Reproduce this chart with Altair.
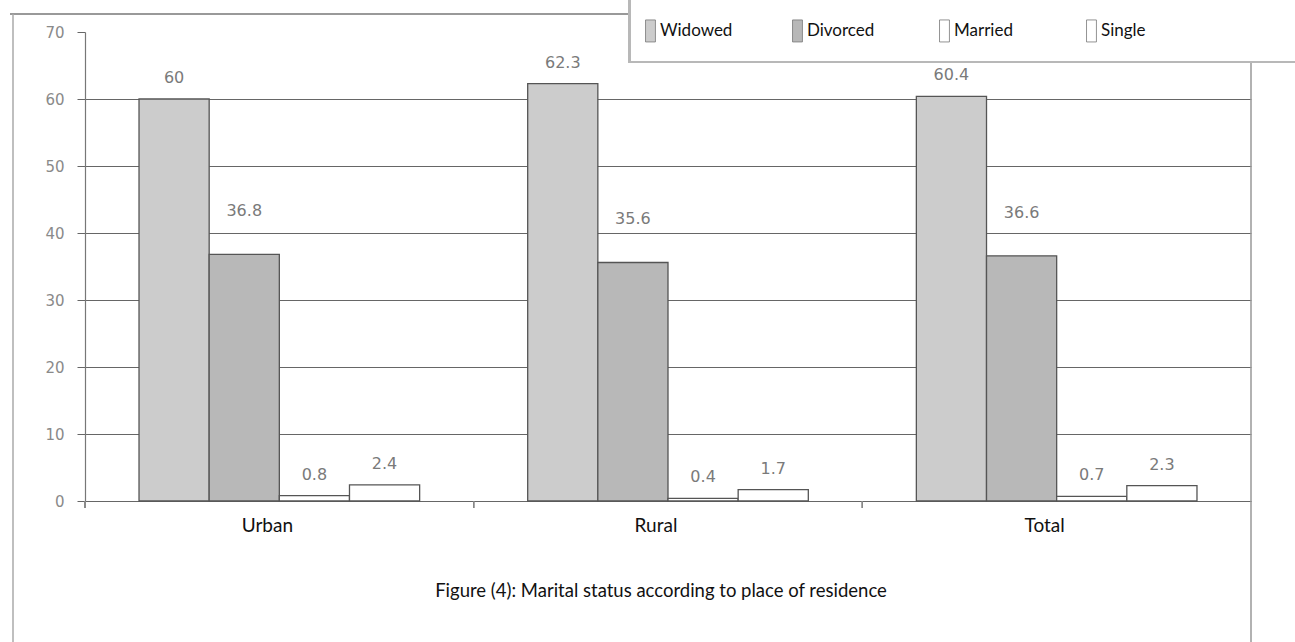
import altair as alt
import pandas as pd

# Marital status (%) by place of residence
places = ["Urban", "Rural", "Total"]
statuses = ["Widowed", "Divorced", "Married", "Single"]
widowed = [60, 62.3, 60.4]
divorced = [36.8, 35.6, 36.6]
married = [0.8, 0.4, 0.7]
single = [2.4, 1.7, 2.3]
y_ticks = [0, 10, 20, 30, 40, 50, 60, 70]
caption = "Figure (4): Marital status according to place of residence"

series = dict(zip(statuses, [widowed, divorced, married, single]))
df = pd.DataFrame(
    [{"place": p, "status": s, "value": series[s][i]}
     for s in statuses for i, p in enumerate(places)]
)
one = pd.DataFrame({"caption": [caption]})

W, H = 1166, 469
FONT_TXT = "Lato"
FONT_NUM = "DejaVu Sans"

x_enc = alt.X(
    "place:N", sort=places, title=None,
    scale=alt.Scale(paddingInner=0, paddingOuter=0),
    axis=alt.Axis(labelFont=FONT_TXT, labelFontSize=19, labelColor="#111",
                  labelAngle=0, labelPadding=15, labelOffset=-12,
                  ticks=False, domainColor="#666", domainWidth=1.2, grid=False),
)
xoff_enc = alt.XOffset("status:N", sort=statuses,
                       scale=alt.Scale(paddingOuter=0.77, paddingInner=0))
y_enc = alt.Y(
    "value:Q", title=None,
    scale=alt.Scale(domain=[0, 70], nice=False, zero=True),
    axis=alt.Axis(values=y_ticks, labelFont=FONT_NUM, labelFontSize=15,
                  labelColor="#8a8a8a", labelPadding=13, tickSize=8,
                  tickColor="#666", domainColor="#777", domainWidth=1.2,
                  gridColor={"condition": {"test": "datum.value >= 70", "value": "white"},
                             "value": "#666666"},
                  gridWidth=1.1),
)

color_enc = alt.Color(
    "status:N", sort=statuses, title=None,
    scale=alt.Scale(domain=statuses, range=["#cccccc", "#b8b8b8", "#ffffff", "#ffffff"]),
    legend=alt.Legend(
        orient="none", legendX=552, legendY=-13, direction="horizontal",
        columns=4, gridAlign="all", columnPadding=51, padding=0,
        symbolType="M-0.27,-1V1H0.63V-1Z", symbolSize=484,
        symbolStrokeColor="#777", symbolStrokeWidth=0.8,
        labelFont=FONT_TXT, labelFontSize=17, labelColor="#111",
        labelOffset=0, zindex=1,
    ),
)

# Outer frame and the legend's boxed panel
frame_top = alt.Chart(one).mark_rule(color="#777", strokeWidth=1.3).encode(
    x=alt.value(-75), x2=alt.value(W), y=alt.value(-18))
frame_left = alt.Chart(one).mark_rule(color="#aaa", strokeWidth=1.5).encode(
    x=alt.value(-72), y=alt.value(-18), y2=alt.value(610))
frame_right = alt.Chart(one).mark_rule(color="#999", strokeWidth=1.5).encode(
    x=alt.value(W), y=alt.value(-18), y2=alt.value(610))
legend_shadow = alt.Chart(one).mark_rect(color="#b8b8b8").encode(
    x=alt.value(543), x2=alt.value(1215), y=alt.value(-32), y2=alt.value(31))
legend_box = alt.Chart(one).mark_rect(color="white").encode(
    x=alt.value(546), x2=alt.value(1215), y=alt.value(-32), y2=alt.value(29))

bars = alt.Chart(df).mark_bar(stroke="#555", strokeWidth=1.3).encode(
    x=x_enc, xOffset=xoff_enc, y=y_enc, color=color_enc)

label_style = dict(font=FONT_NUM, fontSize=16, color="#7a7a7a", baseline="middle", align="center")
labels_main = alt.Chart(df).transform_filter(
    alt.datum.status != "Divorced").mark_text(dy=-21, **label_style).encode(
    x=alt.X("place:N", sort=places), xOffset=alt.XOffset("status:N", sort=statuses),
    y="value:Q", text=alt.Text("value:Q"))
labels_div = alt.Chart(df).transform_filter(
    alt.datum.status == "Divorced").mark_text(dy=-43, **label_style).encode(
    x=alt.X("place:N", sort=places), xOffset=alt.XOffset("status:N", sort=statuses),
    y="value:Q", text=alt.Text("value:Q"))

# Category separators below the baseline
sep_ticks = alt.Chart(df).mark_rule(color="#888", strokeWidth=1.2).encode(
    x=alt.X("place:N", sort=places, bandPosition=0), y=alt.value(H), y2=alt.value(H + 7))

caption_mark = alt.Chart(one).mark_text(
    font=FONT_TXT, fontSize=18.5, color="#111", align="center", baseline="middle"
).encode(text="caption:N", x=alt.value(576), y=alt.value(559))

chart = alt.layer(
    frame_top, frame_left, frame_right, bars, labels_main, labels_div,
    sep_ticks, legend_shadow, legend_box, caption_mark,
).properties(
    width=W, height=H,
    autosize=alt.AutoSizeParams(type="none"),
    padding={"left": 85, "top": 32, "right": 44, "bottom": 141},
    background="white",
).configure_view(stroke=None)

chart.save("out.html", embed_options={"renderer": "svg", "actions": False})
